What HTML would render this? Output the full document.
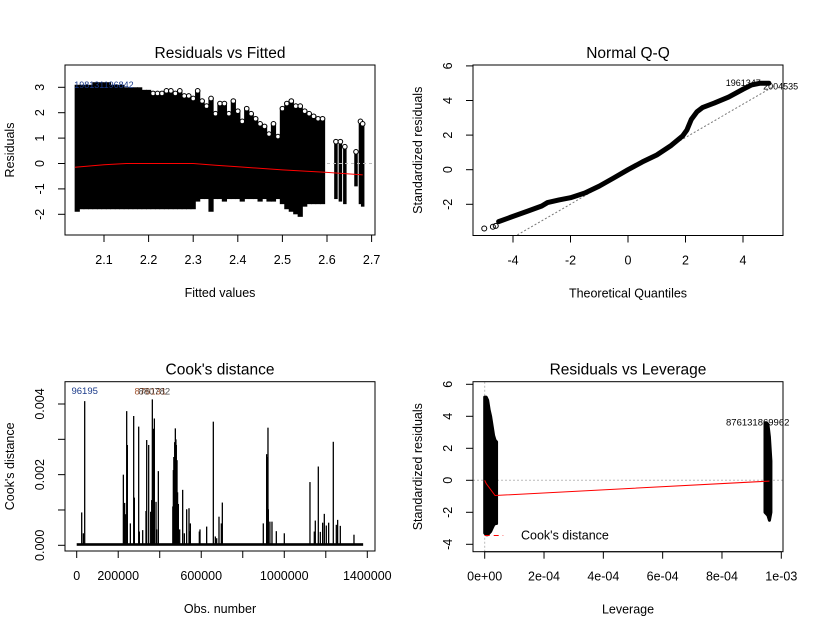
<!DOCTYPE html>
<html><head><meta charset="utf-8"><style>
html,body{margin:0;padding:0;background:#fff;}
svg{display:block;font-family:"Liberation Sans",Arial,sans-serif;}
</style></head><body>
<svg id="chart" width="816" height="633" viewBox="0 0 816 633"></svg>
<script>
// ---------- data ----------
const fitX=[2.04,2.05,2.06,2.07,2.08,2.09,2.10,2.11,2.12,2.13,2.14,2.15,2.16,2.17,2.18,2.19,2.20,2.21,2.22,2.23,2.24,2.25,2.26,2.27,2.28,2.29,2.30,2.31,2.32,2.33,2.34,2.35,2.36,2.37,2.38,2.39,2.40,2.41,2.42,2.43,2.44,2.45,2.46,2.47,2.48,2.49,2.50,2.51,2.52,2.53,2.54,2.55,2.56,2.57,2.58,2.59,2.62,2.63,2.64,2.665,2.675,2.68];
const fitHi=[3.1,3.1,3.1,3.1,3.2,3.2,3.2,3.2,3.1,3.1,3.1,3.0,3.0,3.0,3.0,2.9,2.9,2.8,2.8,2.8,2.9,2.9,2.8,2.9,2.7,2.7,2.6,2.9,2.5,2.3,2.6,2.0,2.4,2.4,2.0,2.5,2.1,1.7,2.2,2.0,1.8,1.6,1.5,1.2,1.6,1.1,2.2,2.4,2.5,2.3,2.3,2.1,2.0,1.9,1.8,1.8,0.9,0.9,0.7,0.5,1.7,1.6];
const fitLo=[-1.9,-1.8,-1.8,-1.8,-1.8,-1.8,-1.8,-1.8,-1.8,-1.8,-1.8,-1.8,-1.8,-1.8,-1.8,-1.8,-1.8,-1.8,-1.8,-1.8,-1.8,-1.8,-1.8,-1.8,-1.8,-1.8,-1.8,-1.5,-1.4,-1.4,-1.9,-1.4,-1.4,-1.5,-1.4,-1.4,-1.4,-1.5,-1.4,-1.4,-1.4,-1.5,-1.4,-1.5,-1.5,-1.4,-1.6,-1.8,-1.9,-2.0,-2.1,-1.7,-1.6,-1.6,-1.6,-1.6,-1.4,-1.5,-1.6,-0.9,-1.6,-1.7];
const lowX=[2.035,2.1,2.15,2.3,2.35,2.4,2.5,2.6,2.68];
const lowY=[-0.15,-0.05,0,0,-0.07,-0.13,-0.25,-0.35,-0.45];
const qqX=[-4.5,-4,-3.5,-3,-2.8,-2.4,-2,-1.5,-1,-0.5,0,0.5,1,1.5,1.9,2.05,2.2,2.4,2.6,3,3.5,4,4.3,4.6,4.9];
const qqY=[-3.0,-2.7,-2.4,-2.1,-1.9,-1.75,-1.62,-1.35,-0.95,-0.48,0,0.45,0.85,1.4,1.95,2.3,2.9,3.35,3.6,3.85,4.2,4.65,4.9,5.0,5.0];
const qqLowX=[-5,-4.7,-4.6];
const qqLowY=[-3.4,-3.3,-3.25];
const cookObs=[24100,32100,38500,224800,228000,231000,236000,240800,244000,258500,274500,277800,298600,301800,317900,333900,337200,346800,356400,361200,364400,367700,370000,374100,382100,385300,393300,463000,465600,468000,472000,475200,478000,480000,483300,486000,489700,496100,510500,518600,529800,541000,544300,547500,590800,594000,626100,658200,667900,674300,685500,696800,701600,899000,915100,920000,921500,923200,930700,940800,961700,1000200,1123800,1144700,1149500,1164000,1173600,1184900,1192900,1202500,1213800,1236200,1250700,1257100,1270000,1335800];
const cookVal=[0.00093,0.00034,0.00408,0.0020,0.0011,0.0012,0.00088,0.0038,0.00284,0.00062,0.00366,0.00135,0.00336,0.00039,0.00043,0.00097,0.00298,0.00284,0.00095,0.00128,0.00413,0.00326,0.0033,0.00359,0.00123,0.00045,0.0021,0.0011,0.00213,0.0025,0.00292,0.00331,0.003,0.00284,0.00241,0.0015,0.00117,0.00045,0.00157,0.00034,0.00102,0.00105,0.0004,0.00062,0.00039,0.00045,0.00053,0.0035,0.00025,0.0002,0.00081,0.00062,0.00121,0.00062,0.00258,0.0025,0.00333,0.00102,0.00067,0.00067,0.0004,0.00034,0.00179,0.00039,0.0007,0.00223,0.00038,0.00064,0.00089,0.00056,0.00064,0.00293,0.00058,0.00072,0.00055,0.0003];
const levLeftX=[0,0.5e-5,1e-5,1.5e-5,2e-5,2.5e-5,3e-5,3.5e-5,4e-5];
const levLeftHi=[5.2,5.2,5.0,4.4,4.0,3.4,2.8,2.5,2.4];
const levLeftLo=[-3.3,-3.4,-3.4,-3.3,-3.2,-3.0,-2.8,-2.7,-2.7];
const levRightX=[9.45e-4,9.5e-4,9.55e-4,9.6e-4,9.65e-4];
const levRightHi=[3.6,3.6,3.5,2.7,1.2];
const levRightLo=[-2.0,-2.1,-2.2,-2.5,-2.0];
const levLineX=[0,0.5e-5,3.5e-5,9.6e-4];
const levLineY=[0,-0.2,-0.95,-0.05];

// ---------- helpers ----------
const svg=document.getElementById('chart');
const NS='http://www.w3.org/2000/svg';
function mk(tag,attrs,parent){const e=document.createElementNS(NS,tag);for(const k in attrs)e.setAttribute(k,attrs[k]);(parent||svg).appendChild(e);return e;}
function txt(s,attrs,parent){const e=mk('text',attrs,parent);e.textContent=s;return e;}

function panel(cfg){
  const g=mk('g',{});
  
  
  const [l,t,r,b]=cfg.box;
  const X=v=>cfg.x0+(v-cfg.xv0)*cfg.xs, Y=v=>cfg.y0-(v-cfg.yv0)*cfg.ys;
  cfg.draw(g,X,Y);
  const box=mk('rect',{x:l,y:t,width:r-l,height:b-t,fill:'none',stroke:'#000','stroke-width':1},g);
  
  
  const xa=mk('g',{},g);
  
  
  mk('line',{x1:X(cfg.xt[0]),x2:X(cfg.xt[cfg.xt.length-1]),y1:b,y2:b,stroke:'#000'},xa);
  cfg.xt.forEach((v,i)=>{
    mk('line',{x1:X(v),x2:X(v),y1:b,y2:b+7,stroke:'#000'},xa);
    if(cfg.xl[i]!==''){const e=txt(cfg.xl[i],{x:X(v),y:b+29,'font-size':12.5,'text-anchor':'middle',fill:'#000'},xa);
      }
  });
  const ya=mk('g',{},g);
  
  
  mk('line',{x1:l,x2:l,y1:Y(cfg.yt[0]),y2:Y(cfg.yt[cfg.yt.length-1]),stroke:'#000'},ya);
  cfg.yt.forEach((v,i)=>{
    mk('line',{x1:l-7,x2:l,y1:Y(v),y2:Y(v),stroke:'#000'},ya);
    if(cfg.yl[i]!==''){const e=txt(cfg.yl[i],{x:0,y:0,'font-size':12.5,'text-anchor':'middle',fill:'#000',transform:`translate(${l-21},${Y(v)}) rotate(-90)`},ya);
      }
  });
  const tt=txt(cfg.title,{x:(l+r)/2,y:t-7,'font-size':15.5,'text-anchor':'middle',fill:'#000'},g);
  
  const xt=txt(cfg.xtitle,{x:(l+r)/2,y:b+62,'font-size':12.5,'text-anchor':'middle',fill:'#000'},g);
  
  const yt=txt(cfg.ytitle,{x:0,y:0,'font-size':12.5,'text-anchor':'middle',fill:'#000',transform:`translate(${l-51},${(t+b)/2}) rotate(-90)`},g);
  
}

// ---------- Panel 1 ----------
panel({name:'residuals-vs-fitted-panel',box:[65,65,375,235],x0:104,xv0:2.1,xs:446,y0:163.5,yv0:0,ys:25.4,
 xt:[2.1,2.2,2.3,2.4,2.5,2.6,2.7],xl:['2.1','2.2','2.3','2.4','2.5','2.6','2.7'],
 yt:[-2,-1,0,1,2,3],yl:['-2','-1','0','1','2','3'],
 title:'Residuals vs Fitted',xtitle:'Fitted values',ytitle:'Residuals',
 draw:(g,X,Y)=>{
  fitX.forEach((v,i)=>{
    const w=v<=2.6?5.2:3.5;
    const r=mk('rect',{x:X(v)-w/2,y:Y(fitHi[i]),width:w,height:Y(fitLo[i])-Y(fitHi[i]),fill:'#000'},g);
    
    
    if(v>2.2) mk('circle',{cx:X(v),cy:Y(fitHi[i])+1,r:2.3,fill:'#fff',stroke:'#000'},g);
  });
  mk('line',{x1:X(2.6),x2:375,y1:Y(0),y2:Y(0),stroke:'#bbb','stroke-dasharray':'3,3'},g);
  const ln=mk('polyline',{points:lowX.map((v,i)=>X(v)+','+Y(lowY[i])).join(' '),fill:'none',stroke:'#f00','stroke-width':1},g);
  
  const lab=txt('198131196842',{x:X(2.04)-3,y:Y(3.1)+3,'font-size':9,fill:'#1a3a8a'},g);
  
 }});

// ---------- Panel 2 ----------
panel({name:'normal-qq-panel',box:[473,65,783,235.5],x0:628,xv0:0,xs:28.75,y0:169.7,yv0:0,ys:17.3,
 xt:[-4,-2,0,2,4],xl:['-4','-2','0','2','4'],
 yt:[-2,0,2,4,6],yl:['-2','0','2','4','6'],
 title:'Normal Q-Q',xtitle:'Theoretical Quantiles',ytitle:'Standardized residuals',
 draw:(g,X,Y)=>{
  mk('line',{x1:X(-3.85),y1:Y(-3.85*0.98),x2:X(5.1),y2:Y(5.1*0.98-0.15),stroke:'#777','stroke-dasharray':'2,2'},g);
  const c=mk('polyline',{points:qqX.map((v,i)=>X(v)+','+Y(qqY[i])).join(' '),fill:'none',stroke:'#000','stroke-width':5,'stroke-linejoin':'round','stroke-linecap':'round'},g);
  
  qqLowX.forEach((v,i)=>mk('circle',{cx:X(v),cy:Y(qqLowY[i]),r:2.5,fill:'none',stroke:'#000'},g));
  const lab=txt('1961347',{x:X(3.4),y:Y(5)+3,'font-size':9,fill:'#000'},g);
  
  const lab2=txt('2004535',{x:X(4.7),y:Y(4.8)+3,'font-size':9,fill:'#000'},g);
  
 }});

// ---------- Panel 3 ----------
panel({name:'cooks-distance-panel',box:[65,381.7,375,551],x0:76.7,xv0:0,xs:290.6/1400000,y0:545.3,yv0:0,ys:35325,
 xt:[0,200000,400000,600000,800000,1000000,1200000,1400000],xl:['0','200000','','600000','','1000000','','1400000'],
 yt:[0,0.001,0.002,0.003,0.004],yl:['0.000','','0.002','','0.004'],
 title:"Cook's distance",xtitle:'Obs. number',ytitle:"Cook's distance",
 draw:(g,X,Y)=>{
  mk('rect',{x:X(0),y:Y(0.00006),width:X(1380000)-X(0),height:Y(0)-Y(0.00006)+0.5,fill:'#000'},g);
  cookObs.forEach((v,i)=>{
    const l=mk('line',{x1:X(v),x2:X(v),y1:Y(0),y2:Y(cookVal[i]),stroke:'#000','stroke-width':1.3},g);
    
  });
  const a=txt('96195',{x:X(38500),y:Y(0.00408)-7,'font-size':9.5,'text-anchor':'middle',fill:'#1a3a8a'},g);
  
  const b=txt('876131',{x:X(364400)-2,y:Y(0.00413)-5,'font-size':9.5,'text-anchor':'middle',fill:'#a0522d'},g);
  
  const c=txt('880782',{x:X(364400)+2,y:Y(0.00413)-5,'font-size':9.5,'text-anchor':'middle',fill:'#000',opacity:0.7},g);
  
 }});

// ---------- Panel 4 ----------
panel({name:'residuals-vs-leverage-panel',box:[473,381.7,783,551.7],x0:484.7,xv0:0,xs:296600,y0:480.3,yv0:0,ys:16,
 xt:[0,2e-4,4e-4,6e-4,8e-4,1e-3],xl:['0e+00','2e-04','4e-04','6e-04','8e-04','1e-03'],
 yt:[-4,-2,0,2,4,6],yl:['-4','-2','0','2','4','6'],
 title:'Residuals vs Leverage',xtitle:'Leverage',ytitle:'Standardized residuals',
 draw:(g,X,Y)=>{
  mk('line',{x1:473,x2:783,y1:Y(0),y2:Y(0),stroke:'#bbb','stroke-dasharray':'2,2'},g);
  mk('line',{x1:X(0),x2:X(0),y1:381.7,y2:551.7,stroke:'#bbb','stroke-dasharray':'2,2'},g);
  const lp=levLeftX.map((v,i)=>X(v)+','+Y(levLeftHi[i])).concat(levLeftX.slice().reverse().map((v,j)=>{const i=levLeftX.length-1-j;return X(v)+','+Y(levLeftLo[i]);}));
  const p1=mk('polygon',{points:lp.join(' '),fill:'#000',stroke:'#000','stroke-width':3,'stroke-linejoin':'round'},g);
  
  const rp=levRightX.map((v,i)=>X(v)+','+Y(levRightHi[i])).concat(levRightX.slice().reverse().map((v,j)=>{const i=levRightX.length-1-j;return X(v)+','+Y(levRightLo[i]);}));
  const p2=mk('polygon',{points:rp.join(' '),fill:'#000',stroke:'#000','stroke-width':3,'stroke-linejoin':'round'},g);
  
  const ln=mk('polyline',{points:levLineX.map((v,i)=>X(v)+','+Y(levLineY[i])).join(' '),fill:'none',stroke:'#f00'},g);
  
  const lg=mk('g',{},g);
  
  mk('line',{x1:X(0),x2:X(2.2e-5)+12,y1:Y(-3.45),y2:Y(-3.45),stroke:'#f00','stroke-dasharray':'5,4'},lg);
  txt("Cook's distance",{x:521,y:Y(-3.45)+4,'font-size':12.5,fill:'#000'},lg);
  const lab=txt('876131869962',{x:726,y:Y(3.6)+3,'font-size':9.5,fill:'#000'},g);
  
 }});
</script>
</body></html>
